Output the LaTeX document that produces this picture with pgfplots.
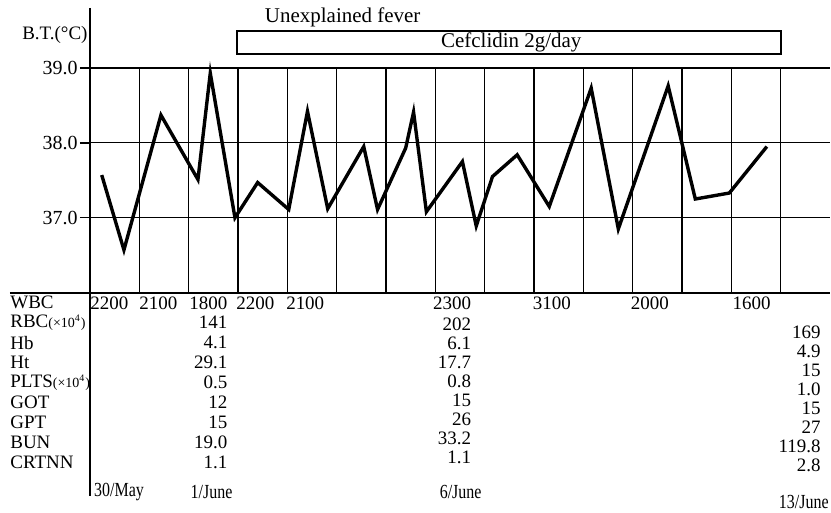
\documentclass[border=0pt]{standalone}
\usepackage{fontspec}
\setmainfont{Liberation Serif}
\usepackage{pgfplots}
\pgfplotsset{compat=1.18}

\newcommand{\tabfont}{\fontsize{9.5}{10}\selectfont}
\newcommand{\xten}{{\fontsize{7}{8}\selectfont(×10\textsuperscript{4})}}

\begin{document}
\begin{tikzpicture}
\begin{axis}[
  at={(0,0)}, anchor=south west,
  scale only axis, width=370.5pt, height=112.5pt,
  xmin=0, xmax=15, ymin=36, ymax=39,
  axis line style={draw=none},
  xtick={1,...,14}, xticklabels={}, xmajorgrids,
  x tick style={draw=none},
  ytick={37,38,39}, ymajorgrids, ytick pos=left,
  tick align=outside, major tick length=5pt,
  y tick style={black, line width=0.7pt},
  grid style={black, line width=0.6pt},
  y tick label style={/pgf/number format/.cd, fixed, fixed zerofill, precision=1,
    assume math mode=true, /tikz/.cd, font=\fontsize{10}{11}\selectfont, inner sep=1pt},
  clip=false,
]
% body temperature
\addplot[black, line width=1.7pt, mark=none] coordinates {
  (0.24,37.57) (0.69,36.57) (1.44,38.37) (2.19,37.51) (2.44,38.93)
  (2.94,37.00) (3.40,37.47) (4.03,37.11) (4.41,38.42) (4.82,37.12)
  (5.55,37.95) (5.83,37.11) (6.40,37.93) (6.56,38.41) (6.82,37.08)
  (7.55,37.75) (7.83,36.89) (8.16,37.55) (8.66,37.84) (9.31,37.15)
  (10.16,38.73) (10.71,36.85) (11.72,38.76) (12.27,37.25) (12.96,37.33)
  (13.72,37.95)
};
\draw[line width=1pt] (axis cs:0,39.8) -- (axis cs:0,33.28);
\draw[line width=1pt] (axis cs:-1.62,36) -- (axis cs:15,36);
% treatment bar
\draw[line width=1.1pt] (axis cs:2.98,39.49) rectangle (axis cs:14,39.187);
\node[font=\fontsize{10.5}{12}\selectfont] at (axis cs:8.54,39.335) {Cefclidin 2g/day};
\node[anchor=west, inner sep=0pt, font=\fontsize{10.5}{12}\selectfont] at (axis cs:3.54,39.68) {Unexplained fever};
\node[anchor=east, inner sep=0pt, font=\tabfont] at (axis cs:-0.04,39.44) {B.T.(°C)};
\coordinate (O) at (axis cs:0,36);
\end{axis}

% lab table, positions in reference pixels (origin at axis corner)
\begin{scope}[shift={(O)}, x=0.5pt, y=-0.5pt, font=\tabfont]
\path (-90,-293) rectangle (741,220);
\foreach \t [count=\i from 0] in {WBC, RBC\xten, Hb, Ht, PLTS\xten, GOT, GPT, BUN, CRTNN}
  \node[anchor=west, inner sep=0pt] at (-80,10+20*\i) {\t};
% WBC row
\foreach \v/\x in {2200/39, 2100/88, 1800/138, 2200/185, 2100/235, 2300/382, 3100/482, 2000/580, 1600/682}
  \node[anchor=east, inner sep=0pt] at (\x,11) {\v};
% 1 June
\foreach \v [count=\i] in {141, 4.1, 29.1, 0.5, 12, 15, 19.0, 1.1}
  \node[anchor=east, inner sep=0pt] at (138,10+20*\i) {\v};
% 6 June
\foreach \v [count=\i] in {202, 6.1, 17.7, 0.8, 15, 26, 33.2, 1.1}
  \node[anchor=east, inner sep=0pt] at (382,13+19*\i) {\v};
% 13 June
\foreach \v [count=\i] in {169, 4.9, 15, 1.0, 15, 27, 119.8, 2.8}
  \node[anchor=east, inner sep=0pt] at (732,21+19*\i) {\v};
% dates
\begin{scope}[every node/.style={inner sep=0pt, xscale=0.8, font=\fontsize{10}{11}\selectfont}]
\node[anchor=west] at (4,200) {30/May};
\node[anchor=east] at (143,200) {1/June};
\node[anchor=west] at (350,200) {6/June};
\node[anchor=east] at (740,210) {13/June};
\end{scope}
\end{scope}
\end{tikzpicture}
\end{document}
